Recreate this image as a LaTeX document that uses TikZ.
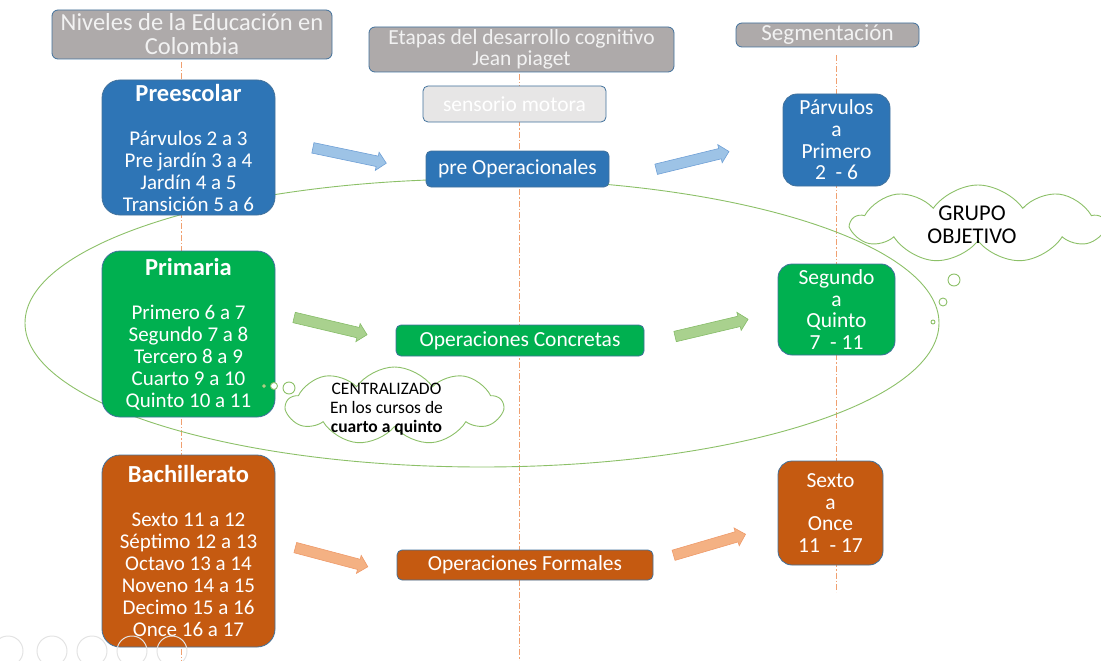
\documentclass[tikz,border=0pt]{standalone}
\usepackage{fontspec}
\setmainfont{Carlito}
\usetikzlibrary{shapes.symbols,shapes.arrows}
\definecolor{cblue}{HTML}{2E75B6}
\definecolor{cgreen}{HTML}{00B050}
\definecolor{corange}{HTML}{C55A11}
\definecolor{cgray}{HTML}{AEAAAA}
\definecolor{clight}{HTML}{E7E6E6}
\definecolor{cborder}{HTML}{41719C}
\definecolor{cdash}{HTML}{F0A070}
\definecolor{cellipse}{HTML}{8CC068}
\definecolor{abluef}{HTML}{9DC3E6}
\definecolor{ablued}{HTML}{6FA0D6}
\definecolor{agreenf}{HTML}{A9D18E}
\definecolor{agreend}{HTML}{86BC68}
\definecolor{aorangef}{HTML}{F4B183}
\definecolor{aoranged}{HTML}{EE9A6A}
\definecolor{cicon}{HTML}{E3E3E3}
\newcommand{\boxtitle}[1]{{\fontsize{24.5}{22}\selectfont\bfseries #1}}
\tikzset{
  header/.style={draw=cborder, line width=0.8pt, fill=cgray, rounded corners=6pt, text=white!95!black, align=center, inner sep=0pt},
  bigbox/.style={draw=cborder, line width=0.8pt, rounded corners=18pt, text=white, align=center, inner sep=0pt, minimum width=173pt, font=\fontsize{21}{22}\selectfont},
  smallbox/.style={draw=cborder, line width=0.8pt, rounded corners=5pt, text=white, align=center, inner sep=0pt, font=\fontsize{21.5}{22}\selectfont},
  segbox/.style={draw=cborder, line width=0.8pt, rounded corners=14pt, text=white, align=center, inner sep=0pt, font=\fontsize{21.5}{21.7}\selectfont},
  guide/.style={cdash, line width=1pt, dash pattern=on 6pt off 2pt on 1.5pt off 2pt},
  blockarrow/.style={single arrow, inner sep=5pt, single arrow head extend=4pt, minimum height=75pt, line width=0.6pt},
  thought/.style={cloud, cloud puffs=9, cloud puff arc=110, cloud ignores aspect, draw=cellipse, fill=white, line width=0.9pt, align=center, inner sep=0pt},
  bubble/.style={circle, draw=cellipse, fill=white, line width=0.9pt, inner sep=0pt},
  uiicon/.style={circle, draw=cicon, line width=1pt, minimum size=30pt, inner sep=0pt}
}
\begin{document}
\begin{tikzpicture}[x=1pt,y=-1pt]
\path[use as bounding box] (0,0) rectangle (1101,661);
% guide lines
\coordinate (g1t) at (181,62); \coordinate (g1b) at (181,661);
\coordinate (g2t) at (519,74); \coordinate (g2b) at (519,661);
\coordinate (g3t) at (836,55); \coordinate (g3b) at (836,592);
\draw[guide] (g1t) -- (g1b);
\draw[guide] (g2t) -- (g2b);
\draw[guide] (g3t) -- (g3b);
% ellipse
\draw[cellipse, line width=0.9pt] (482,323) ellipse [x radius=457pt, y radius=144pt];
% headers
\node[header, minimum width=280pt, minimum height=49pt, font=\fontsize{24.5}{24}\selectfont] (h1) at (192,34.5) {Niveles de la Educación en\\Colombia};
\node[header, minimum width=305pt, minimum height=45pt, font=\fontsize{21.5}{21}\selectfont] (h2) at (521.5,49.5) {Etapas del desarrollo cognitivo\\Jean piaget};
\node[header, minimum width=183pt, minimum height=24pt, font=\fontsize{23}{21}\selectfont] (h3) at (827.5,35) {Segmentación};
% level boxes
\node[bigbox, fill=cblue, minimum height=135pt] (pre) at (188.5,147.5) {\boxtitle{Preescolar}\\[22pt]Párvulos 2 a 3\\Pre jardín 3 a 4\\Jardín 4 a 5\\Transición 5 a 6};
\node[bigbox, fill=cgreen, minimum height=166pt] (pri) at (188.5,334) {\boxtitle{Primaria}\\[22pt]Primero 6 a 7\\Segundo 7 a 8\\Tercero 8 a 9\\Cuarto 9 a 10\\Quinto 10 a 11};
\node[bigbox, fill=corange, minimum height=192pt] (bac) at (188.5,551) {\boxtitle{Bachillerato}\\[22pt]Sexto 11 a 12\\Séptimo 12 a 13\\Octavo 13 a 14\\Noveno 14 a 15\\Decimo 15 a 16\\Once 16 a 17};
% stage boxes
\node[smallbox, fill=clight, minimum width=183pt, minimum height=36pt] (sen) at (514.5,104) {sensorio motora};
\node[smallbox, fill=cblue, minimum width=183pt, minimum height=36pt] (preop) at (517.5,169) {pre Operacionales};
\node[smallbox, fill=cgreen, minimum width=248pt, minimum height=31pt] (conc) at (520,340.5) {Operaciones Concretas};
\node[smallbox, fill=corange, minimum width=256pt, minimum height=30pt] (form) at (525,565) {Operaciones Formales};
% segment boxes
\node[segbox, fill=cblue, minimum width=107pt, minimum height=92pt] (s1) at (836.5,140) {Párvulos\\a\\Primero\\2\ \ - 6};
\node[segbox, fill=cgreen, minimum width=117pt, minimum height=91pt] (s2) at (836.5,309.5) {Segundo\\a\\Quinto\\7\ \ - 11};
\node[segbox, fill=corange, minimum width=105pt, minimum height=104pt] (s3) at (830.5,513) {Sexto\\a\\Once\\11\ \ - 17};
% block arrows
\node[blockarrow, fill=abluef, draw=ablued, rotate=-11.8] (a1) at (347,155) {};
\node[blockarrow, fill=abluef, draw=ablued, rotate=13.7] (a2) at (690,161) {};
\node[blockarrow, fill=agreenf, draw=agreend, rotate=-13.3] (a3) at (328,325.5) {};
\node[blockarrow, fill=agreenf, draw=agreend, rotate=13.3] (a4) at (709,328.5) {};
\node[blockarrow, fill=aorangef, draw=aoranged, rotate=-14.8] (a5) at (329,556.5) {};
\node[blockarrow, fill=aorangef, draw=aoranged, rotate=16.3] (a6) at (707,545.5) {};
% clouds
\node[thought, minimum width=252pt, minimum height=78pt] (c1) at (978,224) {};
\node[font=\fontsize{22.5}{23}\selectfont, align=center, inner sep=0pt] (c1t) at (972,225) {GRUPO\\OBJETIVO};
\node[bubble, minimum size=12pt] (b1) at (954,280) {};
\node[bubble, minimum size=8pt] (b2) at (943,302) {};
\node[bubble, minimum size=4pt] (b3) at (933,322) {};
\node[thought, minimum width=216pt, minimum height=78pt] (c2) at (394.5,406) {};
\node[font=\fontsize{17.5}{19}\selectfont, align=center, inner sep=0pt] (c2t) at (386.5,409) {CENTRALIZADO\\En los cursos de\\\textbf{cuarto a quinto}};
\node[bubble, minimum size=12pt] (b4) at (289,388) {};
\node[bubble, minimum size=7pt] (b5) at (274,386) {};
\node[bubble, minimum size=3pt] (b6) at (264,386) {};
% presentation toolbar
\node[uiicon] (u1) at (8,651) {};
\node[uiicon] (u2) at (52,651) {};
\node[uiicon] (u3) at (92,651) {};
\node[uiicon] (u4) at (132,651) {};
\node[uiicon] (u5) at (172,651) {};
\end{tikzpicture}
\end{document}
